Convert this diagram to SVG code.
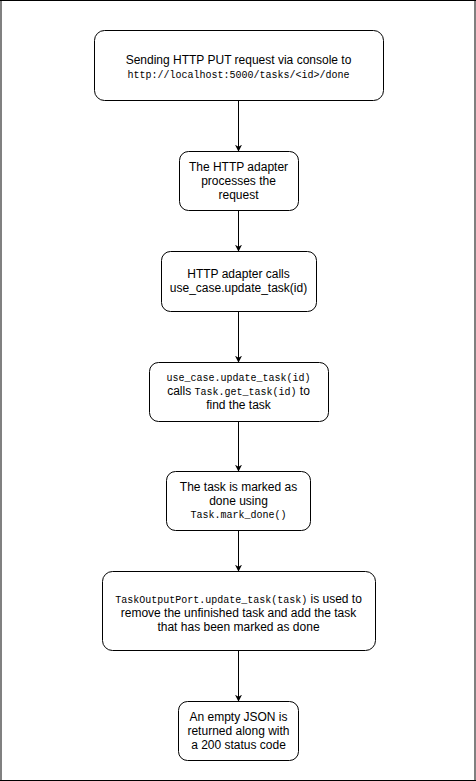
<svg xmlns="http://www.w3.org/2000/svg" width="476" height="781" viewBox="0 0 476 781">
<style>
.box{fill:#fff;stroke:#000;stroke-width:1}
.t{font-family:"Liberation Sans",Arial,sans-serif;font-size:12px;fill:#000;text-anchor:middle}
.m{font-family:"Liberation Mono","DejaVu Sans Mono",monospace;font-size:10px}
.c{stroke:#000;stroke-width:1;fill:none;marker-end:url(#ah)}
</style>
<defs>
<marker id="ah" viewBox="0 0 10 10" refX="9" refY="5" markerWidth="7" markerHeight="7" markerUnits="userSpaceOnUse" orient="auto">
<path d="M0,0 L10,5 L0,10 L3,5 Z" fill="#000"/>
</marker>
</defs>
<rect x="0" y="0" width="476" height="781" fill="#fff"/>
<line x1="1" y1="0" x2="1" y2="781" stroke="#808080" stroke-width="2"/>
<line x1="475" y1="0" x2="475" y2="781" stroke="#808080" stroke-width="2"/>
<line x1="0" y1="0.5" x2="476" y2="0.5" stroke="#000" stroke-width="1"/>
<line x1="0" y1="780.5" x2="476" y2="780.5" stroke="#000" stroke-width="1"/>
<g id="connectors">
<line class="c" x1="238.5" y1="100" x2="238.5" y2="151"/>
<line class="c" x1="238.5" y1="210" x2="238.5" y2="251"/>
<line class="c" x1="238.5" y1="311" x2="238.5" y2="362"/>
<line class="c" x1="238.5" y1="421" x2="238.5" y2="471"/>
<line class="c" x1="238.5" y1="530" x2="238.5" y2="571"/>
<line class="c" x1="238.5" y1="650" x2="238.5" y2="701"/>
</g>
<g id="n1">
<rect class="box" x="94.5" y="30.5" width="289" height="70" rx="10"/>
<text class="t" x="238.5" y="64">Sending HTTP PUT request via console to</text>
<text class="t m" x="238.5" y="78">http://localhost:5000/tasks/&lt;id&gt;/done</text>
</g>
<g id="n2">
<rect class="box" x="179.5" y="151.5" width="119" height="59" rx="9"/>
<text class="t" x="238.5" y="171">The HTTP adapter</text>
<text class="t" x="238.5" y="185">processes the</text>
<text class="t" x="238.5" y="199">request</text>
</g>
<g id="n3">
<rect class="box" x="161.5" y="251.5" width="155" height="60" rx="9"/>
<text class="t" x="238.5" y="278">HTTP adapter calls</text>
<text class="t" x="238.5" y="292">use_case.update_task(id)</text>
</g>
<g id="n4">
<rect class="box" x="149.5" y="362.5" width="179" height="59" rx="9"/>
<text class="t m" x="238.5" y="381">use_case.update_task(id)</text>
<text class="t" x="238.5" y="395">calls <tspan class="m">Task.get_task(id)</tspan> to</text>
<text class="t" x="238.5" y="409">find the task</text>
</g>
<g id="n5">
<rect class="box" x="166.5" y="471.5" width="144" height="59" rx="9"/>
<text class="t" x="238.5" y="491">The task is marked as</text>
<text class="t" x="238.5" y="505">done using</text>
<text class="t m" x="238.5" y="518">Task.mark_done()</text>
</g>
<g id="n6">
<rect class="box" x="102.5" y="571.5" width="273" height="79" rx="10"/>
<text class="t" x="238.5" y="603"><tspan class="m">TaskOutputPort.update_task(task)</tspan> is used to</text>
<text class="t" x="238.5" y="617">remove the unfinished task and add the task</text>
<text class="t" x="238.5" y="631">that has been marked as done</text>
</g>
<g id="n7">
<rect class="box" x="178.5" y="701.5" width="120" height="59" rx="9"/>
<text class="t" x="238.5" y="721">An empty JSON is</text>
<text class="t" x="238.5" y="735">returned along with</text>
<text class="t" x="238.5" y="749">a 200 status code</text>
</g>
</svg>
